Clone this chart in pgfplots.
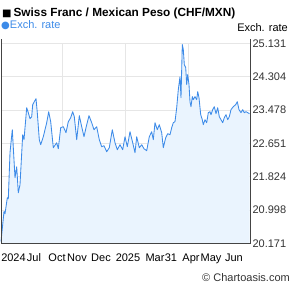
\documentclass[border=0pt]{standalone}
\usepackage{pgfplots}
\pgfplotsset{compat=1.18}
\usepackage{fontspec}
\setmainfont{Liberation Sans}
\newfontfamily\sym{DejaVu Sans}
\definecolor{lineblue}{HTML}{3D8BE8}
\definecolor{fillblue}{HTML}{EAF4FE}
\definecolor{gridgray}{HTML}{E6E6E6}
\definecolor{axisgray}{HTML}{444444}
\definecolor{textgray}{HTML}{333333}
\pgfplotstableread{
x y
1 20.215
4 20.960
5 20.902
7.3 21.300
8.3 21.275
10 22.417
12.3 22.988
15 21.796
16.7 22.069
18.3 21.424
20 21.623
22.7 22.864
24 22.740
26.7 23.534
28.3 23.410
30 23.261
31.7 23.311
32.7 23.609
34.3 23.683
36 23.758
37.3 23.410
39.3 22.740
40.7 22.616
43.3 22.814
46.7 23.162
48.7 23.435
50.7 23.187
53.3 22.541
56.7 22.665
58.3 22.516
60.7 23.038
63.3 23.063
66 22.914
68.3 23.187
70.7 23.286
72.7 23.435
74.3 23.311
76.7 22.740
79.3 23.336
81.7 23.063
84 22.814
86 23.038
89 23.336
91.7 23.162
94 22.988
96.7 23.063
99.3 22.740
101.7 22.566
104 22.591
106.7 22.442
109.3 22.541
112.3 22.988
115 22.665
117.3 22.492
120 22.616
122.7 22.492
125 22.814
127.3 22.566
130 22.939
132.7 22.665
135 22.417
136.7 22.814
139.3 22.541
141.7 22.616
144 22.516
146.7 22.467
149.3 22.814
151.7 22.939
153.3 22.740
155 23.162
157.3 22.988
159.3 23.112
161.7 22.914
163.3 22.541
165.7 22.789
167.7 22.889
170 22.864
171.7 23.038
173.3 23.162
175 23.187
176.7 23.534
178.3 23.981
180 24.300
181 23.783
182.3 25.099
183.3 24.975
184.3 24.602
185.7 24.528
186.7 24.106
187.7 24.354
189 24.106
190 23.683
191 23.559
192.3 23.808
193.3 23.733
195 23.808
196.7 23.733
197.7 23.932
199 23.783
200.7 23.361
202.3 23.236
203.3 23.112
205 23.236
206.7 23.162
208.3 23.410
210 23.435
211 23.361
212.7 23.485
214.3 23.559
216 23.385
217.7 23.534
219.3 23.311
221 23.236
222.7 23.162
224.3 23.286
226 23.361
227.7 23.236
229.3 23.311
231 23.485
233.3 23.559
235.7 23.609
237.3 23.683
239 23.485
241 23.410
242.7 23.485
244.3 23.410
246 23.435
249.5 23.385
}\ratedata
\begin{document}
\begin{tikzpicture}[x=1pt,y=1pt]
\useasboundingbox (0,0) rectangle (295,288);
\begin{axis}[
  at={(1pt,44.7pt)}, anchor=south west,
  scale only axis, width=249pt, height=200pt,
  xmin=1, xmax=250, ymin=20.171, ymax=25.131,
  axis line style={draw=none},
  ytick={20.171,20.998,21.824,22.651,23.478,24.304,25.131},
  yticklabels={20.171,20.998,21.824,22.651,23.478,24.304,25.131},
  yticklabel pos=right,
  yticklabel style={font=\fontsize{11}{13}\selectfont, text=textgray, anchor=west, xshift=-1pt},
  ymajorgrids,
  xtick={13.5,34,57,77,101,128,155,171,191,211,234},
  xticklabels={2024,Jul,Oct,Nov,Dec,2025,Mar,31,Apr,May,Jun},
  xticklabel style={font=\fontsize{11}{13}\selectfont, text=black, anchor=base, yshift=-18.4pt},
  extra x ticks={62,125,188},
  extra x tick labels={},
  extra x tick style={xmajorgrids, tick style={draw=none}},
  major tick length=0pt,
  grid style={gridgray, line width=0.8pt},
  clip=false,
]
\addplot[draw=none, fill=fillblue] table {\ratedata} \closedcycle;
\addplot[lineblue, line width=0.85pt, line join=round] table {\ratedata};
\draw[axisgray, line width=0.9pt] ([yshift=4pt]rel axis cs:0,1) -- (rel axis cs:0,0) -- (rel axis cs:1,0) -- ([yshift=4pt]rel axis cs:1,1);
\end{axis}
\node[anchor=base west, inner sep=0pt, font=\fontsize{11.8}{13}\selectfont\bfseries] at (2,271.5) {{\sym\fontsize{10}{12}\selectfont ■}\,Swiss Franc / Mexican Peso (CHF/MXN)};
\node[anchor=base west, inner sep=0pt, font=\fontsize{11}{13}\selectfont, text=lineblue] at (1,259) {{\sym\fontsize{10}{12}\selectfont ●}Exch. rate};
\node[anchor=base east, inner sep=0pt, font=\fontsize{11}{13}\selectfont] at (288,256) {Exch. rate};
\node[anchor=base east, inner sep=0pt, font=\fontsize{11}{13}\selectfont, text=textgray] at (290,6.5) {© Chartoasis.com};
\end{tikzpicture}
\end{document}
